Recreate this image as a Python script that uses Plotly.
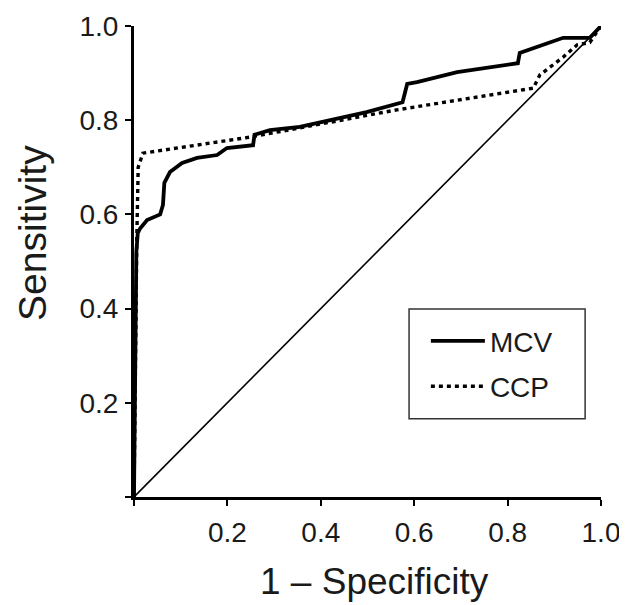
import plotly.graph_objects as go

# ROC curve points (1 - specificity, sensitivity)
mcv_fpr = [0.0, 0.003, 0.005, 0.008, 0.013, 0.028, 0.056, 0.062, 0.065, 0.077,
           0.103, 0.135, 0.178, 0.199, 0.255, 0.258, 0.291, 0.355, 0.392, 0.426,
           0.498, 0.575, 0.585, 0.606, 0.692, 0.822, 0.826, 0.919, 0.976, 1.0]
mcv_tpr = [0.0, 0.30, 0.52, 0.56, 0.57, 0.588, 0.60, 0.62, 0.667, 0.69,
           0.709, 0.72, 0.726, 0.741, 0.747, 0.769, 0.779, 0.786, 0.794, 0.80,
           0.817, 0.838, 0.877, 0.881, 0.902, 0.921, 0.943, 0.975, 0.975, 1.0]

ccp_fpr = [0.0, 0.002, 0.006, 0.009, 0.019, 0.248, 0.563, 0.855, 0.869, 0.919,
           0.949, 0.976, 1.0]
ccp_tpr = [0.0, 0.20, 0.55, 0.70, 0.73, 0.764, 0.822, 0.868, 0.896, 0.934,
           0.96, 0.965, 1.0]

chance = [0.0, 1.0]

tick_vals = [0.0, 0.2, 0.4, 0.6, 0.8, 1.0]
tick_text = ["", "0.2", "0.4", "0.6", "0.8", "1.0"]

FONT = "Liberation Sans, Arial, sans-serif"
TXT = "#1a1a1a"

fig = go.Figure()
fig.add_trace(
    go.Scatter(
        x=chance, y=chance, mode="lines",
        line=dict(color="black", width=1.6),
        showlegend=False, hoverinfo="skip",
    )
)
fig.add_trace(
    go.Scatter(
        x=mcv_fpr, y=mcv_tpr, mode="lines", name="MCV", legendgroup="mcv",
        line=dict(color="black", width=3.8),
    )
)
fig.add_trace(
    go.Scatter(
        x=ccp_fpr, y=ccp_tpr, mode="lines", name="CCP", legendgroup="ccp",
        line=dict(color="black", width=3.4, dash="4px,4px"),
    )
)

axis_common = dict(
    range=[0, 1.0],
    tickvals=tick_vals,
    ticktext=tick_text,
    showgrid=False,
    zeroline=False,
    showline=True,
    linecolor="black",
    linewidth=3,
    ticks="outside",
    ticklen=6,
    tickwidth=2,
    tickcolor="black",
    tickfont=dict(size=28, color=TXT, family=FONT),
)

# the page body has an 8px margin, so the margins are offset by it
fig.update_layout(
    width=627,
    height=605,
    margin=dict(l=126, r=34, t=18, b=116, autoexpand=False),
    paper_bgcolor="white",
    plot_bgcolor="white",
    font=dict(family=FONT, color=TXT),
    xaxis=dict(**axis_common, ticklabelstandoff=2),
    yaxis=dict(**axis_common, ticklabelstandoff=1),
    legend=dict(
        x=0.625, y=0.384, xanchor="left", yanchor="top",
        borderwidth=0,
        bgcolor="rgba(0,0,0,0)",
        font=dict(size=28, family=FONT, color=TXT),
        itemwidth=54,
        tracegroupgap=6,
    ),
    shapes=[
        dict(
            type="rect", xref="paper", yref="paper",
            x0=0.589, x1=0.966, y0=0.166, y1=0.399,
            line=dict(color="#333", width=1.5),
        )
    ],
    annotations=[
        dict(
            text="Sensitivity", xref="paper", yref="paper",
            x=-0.217, y=0.56, xanchor="center", yanchor="middle",
            textangle=-90, showarrow=False,
            font=dict(size=39, family=FONT, color=TXT),
        ),
        dict(
            text="1 \u2013 Specificity", xref="paper", yref="paper",
            x=0.516, y=-0.18, xanchor="center", yanchor="middle",
            showarrow=False,
            font=dict(size=37, family=FONT, color=TXT),
        ),
    ],
)

fig.write_html("out.html")
